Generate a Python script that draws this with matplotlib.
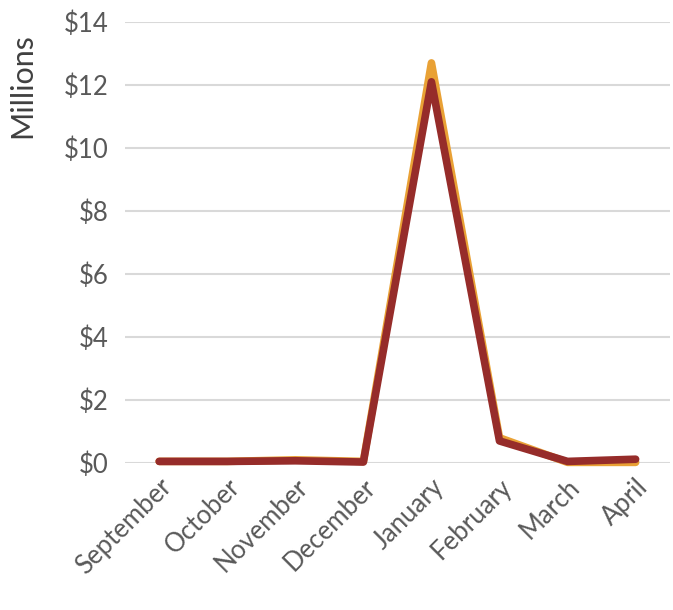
import matplotlib.pyplot as plt
from matplotlib.ticker import FuncFormatter

months = ["September", "October", "November", "December",
          "January", "February", "March", "April"]
series_a = [0.05, 0.05, 0.10, 0.05, 12.7, 0.80, 0.02, 0.02]
series_b = [0.05, 0.05, 0.07, 0.03, 12.1, 0.70, 0.05, 0.12]

plt.rcParams['font.family'] = ['Lato', 'DejaVu Sans']

fig = plt.figure(figsize=(6.73, 6.10), dpi=100)
ax = fig.add_axes([0.186, 0.241, 0.809, 0.723])

x = range(len(months))
ax.plot(x, series_a, color="#E9A135", lw=5.5, solid_capstyle="round", solid_joinstyle="round", zorder=3)
ax.plot(x, series_b, color="#962C2A", lw=5.5, solid_capstyle="round", solid_joinstyle="round", zorder=4)

ax.set_xlim(-0.5, len(months) - 0.5)
ax.set_ylim(0, 14)
ax.set_yticks(range(0, 15, 2))
ax.yaxis.set_major_formatter(FuncFormatter(lambda v, p: "$%d" % v))
ax.set_xticks(list(x))
ax.set_xticklabels(months, rotation=45, ha="right", rotation_mode="anchor")

ax.grid(axis="y", color="#D9D9D9", lw=1.5)
ax.set_axisbelow(True)
for s in ax.spines.values():
    s.set_visible(False)
ax.tick_params(axis="y", length=0, labelsize=18.5, colors="#595959", pad=12)
ax.tick_params(axis="x", length=0, labelsize=18.5, colors="#595959", pad=8)
for t in ax.get_xticklabels():
    t.set_x(t.get_position()[0])
fig.text(22 / 673, 1 - 86 / 610, "Millions", rotation=90, ha="center", va="center",
         fontsize=22, color="#404040")
for l in ax.lines:
    l.set_clip_on(False)

fig.savefig("out.png", dpi=100)
